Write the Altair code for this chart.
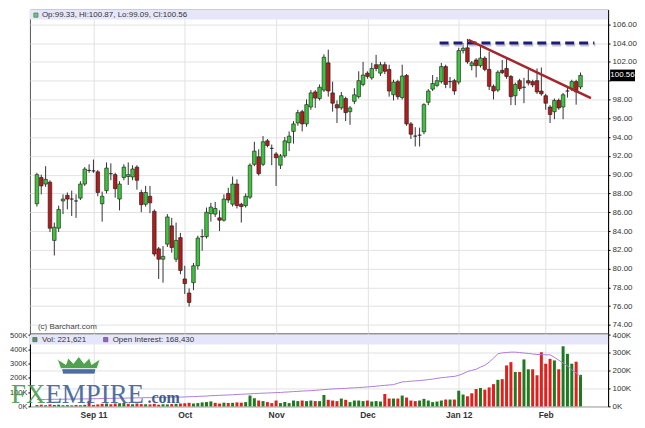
import altair as alt
import pandas as pd

# ---------------- data ----------------
OPEN = [86.9, 89.7, 89.0, 89.2, 83.0, 84.3, 87.2, 87.8, 87.4, 87.2,
        87.5, 89.0, 90.45, 90.4, 90.3, 86.9, 88.3, 90.1, 90.0, 87.4,
        89.7, 89.8, 89.75, 90.8, 88.1, 86.85, 87.7, 86.1, 82.1, 81.0,
        82.6, 84.55, 81.0, 83.3, 78.9, 77.4, 78.5, 80.3, 83.4, 83.4,
        85.85, 85.8, 85.4, 85.15, 88.0, 86.85, 89.0, 86.85, 86.7, 87.6,
        91.1, 91.9, 91.1, 93.6, 92.8, 92.2, 91.0, 92.0, 93.4, 94.6,
        95.5, 96.7, 95.4, 97.2, 98.8, 98.1, 99.0, 101.9, 98.7, 97.45,
        97.1, 98.1, 96.7, 97.8, 98.3, 99.6, 100.8, 100.3, 101.7, 100.8,
        101.7, 101.2, 98.5, 99.9, 98.2, 100.56, 95.4, 94.1, 94.2, 94.55,
        97.7, 99.1, 99.5, 99.9, 101.5, 99.9, 100.0, 99.85, 103.2, 103.5,
        101.6, 102.2, 101.6, 102.4, 101.2, 99.4, 99.0, 101.1, 101.3, 100.45,
        98.4, 100.0, 99.3, 100.0, 99.9, 100.0, 98.9, 98.4, 97.2, 96.7,
        97.9, 97.2, 98.9, 99.15, 99.9, 99.33]
HIGH = [90.2, 90.0, 90.9, 89.4, 84.9, 86.7, 87.9, 88.1, 88.3, 87.9,
        89.3, 90.8, 91.1, 91.6, 90.5, 88.2, 91.3, 91.2, 90.2, 89.3,
        91.1, 91.3, 91.0, 91.0, 88.4, 88.8, 88.8, 86.3, 82.3, 82.4,
        85.8, 85.4, 84.9, 83.8, 80.3, 77.9, 80.6, 83.5, 84.2, 86.5,
        87.0, 87.1, 86.2, 87.9, 88.6, 89.8, 89.5, 87.0, 88.0, 91.2,
        93.5, 92.7, 94.1, 93.8, 93.2, 92.4, 92.2, 94.0, 94.6, 95.7,
        96.9, 96.9, 98.0, 99.0, 99.0, 99.6, 102.8, 103.3, 99.9, 97.9,
        98.8, 98.3, 97.3, 99.2, 101.0, 102.0, 101.0, 101.9, 102.75, 102.0,
        102.0, 101.7, 100.1, 100.1, 101.7, 100.7, 95.6, 95.05, 95.0, 97.6,
        99.1, 100.6, 100.4, 101.9, 101.7, 100.4, 100.2, 103.5, 104.0, 104.45,
        102.1, 102.4, 103.6, 102.6, 103.1, 99.6, 101.1, 102.2, 102.3, 100.6,
        99.8, 100.2, 100.3, 101.2, 100.1, 101.3, 101.4, 98.6, 97.4, 98.1,
        98.1, 98.7, 99.3, 100.1, 100.1, 100.87]
LOW = [86.6, 87.9, 88.7, 83.9, 81.4, 83.9, 85.8, 86.3, 85.6, 85.4,
       87.3, 88.8, 90.2, 90.2, 87.7, 85.0, 88.0, 89.4, 87.55, 86.2,
       89.4, 88.9, 89.4, 88.4, 86.0, 86.6, 85.9, 81.3, 78.9, 78.5,
       82.3, 81.7, 80.7, 79.4, 77.3, 75.96, 77.7, 79.9, 81.9, 83.2,
       85.0, 85.5, 84.0, 85.0, 87.0, 86.6, 86.4, 84.9, 86.5, 87.4,
       90.9, 89.9, 90.9, 92.9, 91.0, 88.8, 90.6, 91.8, 92.5, 93.3,
       95.2, 94.6, 95.1, 96.9, 97.1, 97.9, 98.8, 98.3, 96.7, 95.5,
       96.9, 95.7, 95.3, 97.5, 98.1, 99.4, 100.2, 100.1, 101.0, 100.5,
       100.7, 98.3, 97.9, 98.0, 98.0, 95.2, 93.8, 93.0, 93.0, 94.3,
       97.4, 98.9, 99.3, 99.7, 99.2, 99.2, 98.5, 99.6, 102.9, 101.8,
       101.1, 100.35, 101.4, 101.0, 99.0, 98.0, 98.8, 100.7, 100.2, 97.4,
       97.4, 98.9, 97.6, 99.5, 99.3, 98.6, 98.4, 96.9, 95.5, 95.9,
       96.9, 95.9, 98.2, 98.9, 97.45, 99.09]
CLOSE = [90.0, 88.8, 89.5, 84.3, 84.4, 86.3, 87.4, 87.4, 87.4, 87.2,
         89.0, 90.6, 90.45, 90.4, 88.1, 87.7, 90.7, 90.1, 88.5, 89.0,
         90.8, 90.0, 90.6, 89.4, 86.8, 88.1, 87.0, 81.55, 81.0, 81.3,
         85.5, 82.25, 83.0, 79.8, 78.4, 76.4, 80.3, 83.25, 83.4, 86.0,
         86.55, 86.4, 85.15, 87.4, 87.3, 89.0, 86.7, 86.6, 87.7, 91.0,
         92.5, 90.1, 93.5, 93.1, 92.8, 91.8, 92.0, 93.6, 94.1, 95.4,
         96.6, 95.4, 97.45, 98.7, 98.15, 99.3, 102.5, 98.9, 97.6, 97.1,
         98.4, 96.6, 97.1, 98.5, 100.0, 100.6, 100.45, 101.3, 101.3, 101.7,
         101.0, 98.9, 99.85, 98.3, 100.5, 95.4, 94.3, 94.1, 94.2, 97.45,
         98.9, 99.7, 100.0, 101.5, 99.6, 99.9, 98.9, 103.2, 103.45, 102.0,
         101.9, 101.6, 102.4, 101.2, 99.4, 98.9, 100.9, 100.85, 100.45, 98.3,
         99.6, 99.15, 99.3, 99.75, 99.55, 98.8, 98.6, 97.6, 96.4, 97.9,
         97.1, 98.5, 98.9, 99.9, 98.8, 100.56]
VOLUME_K = [9, 12, 8, 14, 10, 12, 8, 9, 7, 10,
            8, 11, 40, 10, 14, 18, 20, 15, 20, 22,
            24, 18, 15, 20, 16, 15, 14, 18, 12, 15,
            14, 16, 18, 20, 22, 25, 20, 23, 28, 30,
            35, 25, 20, 26, 24, 25, 28, 26, 30, 76,
            57, 41, 37, 30, 23, 41, 23, 30, 23, 41,
            37, 41, 37, 41, 37, 37, 80, 46, 41, 37,
            55, 46, 30, 41, 41, 37, 41, 34, 37, 34,
            87, 55, 55, 55, 76, 62, 41, 37, 41, 53,
            41, 30, 34, 41, 48, 48, 48, 110, 83, 71,
            92, 122, 129, 117, 133, 156, 186, 191, 287, 310,
            241, 241, 329, 260, 260, 218, 379, 299, 333, 322,
            260, 421, 368, 299, 313, 221]
OPEN_INTEREST_K = [38, 38, 39, 39, 40, 40, 40, 41, 41, 41,
                   42, 42, 42, 43, 43, 44, 44, 45, 45, 46,
                   46, 47, 47, 48, 48, 49, 49, 50, 50, 50,
                   51, 51, 52, 52, 53, 54, 55, 56, 57, 58,
                   60, 61, 62, 63, 64, 65, 67, 68, 69, 70,
                   72, 73, 74, 75, 76, 77, 78, 80, 81, 83,
                   84, 86, 87, 88, 90, 92, 94, 96, 98, 99,
                   100, 101, 103, 104, 106, 107, 109, 111, 113, 116,
                   118, 120, 122, 130, 137, 139, 141, 143, 145, 147,
                   150, 153, 157, 161, 163, 166, 168, 174, 184, 195,
                   202, 208, 220, 230, 248, 270, 295, 300, 302, 304,
                   304, 302, 299, 297, 294, 291, 290, 289, 289, 275,
                   259, 243, 227, 205, 187, 168]
LAST_VOLUME = 221621
LAST_OI = 168430

MONTH_TICKS = [13, 34, 55, 76, 97, 117]
MONTH_LABELS = ["Sep 11", "Oct", "Nov", "Dec", "Jan 12", "Feb"]
PRICE_TICKS = list(range(74, 107, 2))
VOL_TICKS = [0, 100, 200, 300, 400, 500]
OI_TICKS = [0, 100, 200, 300, 400]

RESIST_I = [92.6, 128.2]
RESIST_P = [104.0, 104.0]
TREND_I = [99.2, 127.4]
TREND_P = [104.35, 98.15]

# ---------------- layout / style ----------------
W, H_MAIN, H_VOL = 580, 325, 73
FONT = "Liberation Sans"
X_DOMAIN = [-0.46, 130.2]
PRICE_DOMAIN = [73.08, 107.56]
VOL_DOMAIN = [0, 509.8]
OI_DOMAIN = [0, 407.8]
GREEN, RED = "#3cc43c", "#b41c1c"
VGREEN, VRED = "#1f7a1f", "#e0201c"
GRID = "#e2e2e2"

n = len(CLOSE)
prev = [CLOSE[0]] + CLOSE[:-1]
df = pd.DataFrame({
    "i": list(range(n)), "o": OPEN, "h": HIGH, "l": LOW, "c": CLOSE,
    "vol": VOLUME_K, "oi": OPEN_INTEREST_K,
    "bcol": [GREEN if c >= o else RED for o, c in zip(OPEN, CLOSE)],
    "vcol": [VGREEN if c >= p else VRED for c, p in zip(CLOSE, prev)],
})

xs = alt.Scale(domain=X_DOMAIN, nice=False, zero=False)
ps = alt.Scale(domain=PRICE_DOMAIN, nice=False, zero=False)

one = pd.DataFrame({"k": [0]})

# ---------------- main price pane ----------------
wicks = alt.Chart(df).mark_rule(color="#333333", strokeWidth=1).encode(
    x=alt.X("i:Q", scale=xs, axis=alt.Axis(values=MONTH_TICKS, tickCount=len(MONTH_TICKS), labels=False,
                                           ticks=False, domain=False, grid=True, gridColor=GRID, title=None)),
    y=alt.Y("l:Q", scale=ps, axis=alt.Axis(
        orient="right", values=PRICE_TICKS, tickCount=len(PRICE_TICKS), labelOverlap=False,
        labelExpr="datum.value == 100 ? '' : format(datum.value, '.2f')",
        grid=True, gridColor=GRID, tickSize=2, tickColor="#000", domainColor="#000",
        labelFontSize=8, labelColor="#333", labelPadding=2, title=None, labelFont=FONT)),
    y2="h:Q",
)
bodies = alt.Chart(df).mark_bar(size=3.6, stroke="#1a1a1a", strokeWidth=0.6).encode(
    x=alt.X("i:Q", scale=xs),
    y=alt.Y("o:Q", scale=ps),
    y2="c:Q",
    color=alt.Color("bcol:N", scale=None),
)
resist_df = pd.DataFrame({"i": RESIST_I, "p": RESIST_P})
resist_shadow = alt.Chart(resist_df).mark_line(strokeDash=[9, 5], strokeWidth=3, color="#c4c4d0", yOffset=2, xOffset=1).encode(
    x=alt.X("i:Q", scale=xs), y=alt.Y("p:Q", scale=ps))
resist = alt.Chart(resist_df).mark_line(strokeDash=[9, 5], strokeWidth=3, color="#1c1c7a").encode(
    x=alt.X("i:Q", scale=xs), y=alt.Y("p:Q", scale=ps))
trend_df = pd.DataFrame({"i": TREND_I, "p": TREND_P})
trend = alt.Chart(trend_df).mark_line(strokeWidth=2.6, color="#a3262a").encode(
    x=alt.X("i:Q", scale=xs), y=alt.Y("p:Q", scale=ps))

band_main = alt.Chart(one).mark_rect(color="#e6e6fa").encode(
    x=alt.value(0), x2=alt.value(W), y=alt.value(0), y2=alt.value(10))
hdr_sq = alt.Chart(one).mark_square(size=18, filled=True, color="#33bb33", stroke="#224422", strokeWidth=0.7).encode(
    x=alt.value(6), y=alt.value(5.5))
hdr_txt = alt.Chart(pd.DataFrame({"t": [f"Op:{OPEN[-1]:.2f}, Hi:{HIGH[-1]:.2f}, Lo:{LOW[-1]:.2f}, Cl:{CLOSE[-1]:.2f}"]})).mark_text(
    align="left", baseline="middle", fontSize=8, font=FONT, color="#333").encode(
    x=alt.value(12), y=alt.value(5.5), text="t:N")
credit = alt.Chart(pd.DataFrame({"t": ["(c) Barchart.com"]})).mark_text(
    align="left", baseline="middle", fontSize=8, font=FONT, color="#444").encode(
    x=alt.value(8), y=alt.value(318), text="t:N")

last_df = pd.DataFrame({"c": [CLOSE[-1]], "top": [CLOSE[-1] + 0.62], "bot": [CLOSE[-1] - 0.62],
                        "t": [f"{CLOSE[-1]:.2f}"]})
last_box = alt.Chart(last_df).mark_rect(color="#000").encode(
    x=alt.value(W + 2), x2=alt.value(W + 27), y=alt.Y("top:Q", scale=ps), y2="bot:Q")
last_txt = alt.Chart(last_df).mark_text(color="#fff", fontSize=8, font=FONT, align="center", baseline="middle").encode(
    x=alt.value(W + 14.5), y=alt.Y("c:Q", scale=ps), text="t:N")

main = alt.layer(wicks, band_main, bodies, resist_shadow, resist, trend, hdr_sq, hdr_txt, credit,
                 last_box, last_txt).properties(width=W, height=H_MAIN)

# ---------------- volume / open interest pane ----------------
month_expr = " : ".join(f"datum.value == {t} ? '{l}'" for t, l in zip(MONTH_TICKS, MONTH_LABELS)) + " : ''"

vol_bars = alt.Chart(df).mark_bar(size=3).encode(
    x=alt.X("i:Q", scale=xs, axis=alt.Axis(values=MONTH_TICKS, tickCount=len(MONTH_TICKS), labelExpr=month_expr,
                                           grid=True, gridColor=GRID, ticks=False, domain=False,
                                           labelFontWeight="bold", labelFontSize=8.5, labelColor="#333",
                                           labelPadding=4, title=None, labelFont=FONT)),
    y=alt.Y("vol:Q", scale=alt.Scale(domain=VOL_DOMAIN, nice=False), axis=alt.Axis(
        orient="left", values=VOL_TICKS, tickCount=len(VOL_TICKS), labelExpr="datum.value + 'K'", tickSize=2,
        labelOverlap=False, labelFontSize=7.5, labelPadding=1, grid=False, domainColor="#000", tickColor="#000",
        labelColor="#333", title=None, labelFont=FONT)),
    color=alt.Color("vcol:N", scale=None),
)
oi_line = alt.Chart(df).mark_line(color="#b07cd8", strokeWidth=1).encode(
    x=alt.X("i:Q", scale=xs),
    y=alt.Y("oi:Q", scale=alt.Scale(domain=OI_DOMAIN, nice=False), axis=alt.Axis(
        orient="right", values=OI_TICKS, tickCount=len(OI_TICKS), labelExpr="datum.value + 'K'", tickSize=2,
        labelOverlap=False, labelFontSize=8, labelPadding=2, grid=True, gridColor=GRID, domainColor="#000",
        tickColor="#000", labelColor="#333", title=None, labelFont=FONT)),
)
band_vol = alt.Chart(one).mark_rect(color="#e6e6fa").encode(
    x=alt.value(0), x2=alt.value(W), y=alt.value(1), y2=alt.value(11))
v_sq = alt.Chart(one).mark_square(size=18, filled=True, color="#1f6e1f", stroke="#113311", strokeWidth=0.7).encode(
    x=alt.value(5), y=alt.value(6))
v_txt = alt.Chart(pd.DataFrame({"t": [f"Vol: {LAST_VOLUME:,}"]})).mark_text(
    align="left", baseline="middle", fontSize=8, font=FONT, color="#333").encode(
    x=alt.value(12), y=alt.value(6), text="t:N")
oi_sq = alt.Chart(one).mark_square(size=18, filled=True, color="#7a2aa8", stroke="#331144", strokeWidth=0.7).encode(
    x=alt.value(76), y=alt.value(6))
oi_txt = alt.Chart(pd.DataFrame({"t": [f"Open Interest: {LAST_OI:,}"]})).mark_text(
    align="left", baseline="middle", fontSize=8, font=FONT, color="#333").encode(
    x=alt.value(83), y=alt.value(6), text="t:N")

# FXEMPIRE watermark
CROWN = ("M -0.85 0.15 L -1 -0.3 L -0.6 -0.05 L -0.5 -0.35 L -0.25 -0.1 L 0 -0.42 "
         "L 0.25 -0.1 L 0.5 -0.35 L 0.6 -0.05 L 1 -0.3 L 0.85 0.15 Z")
BAND = "M -0.8 0.15 L 0.8 0.15 L 0.75 0.4 L -0.75 0.4 Z"
crown = alt.Chart(one).mark_point(shape=CROWN, size=1849, filled=True, color="#3d9a3d", opacity=0.9,
                                  stroke="#ffffff", strokeWidth=0.8).encode(x=alt.value(49), y=alt.value(32))
crown_band = alt.Chart(one).mark_point(shape=BAND, size=1849, filled=True, color="#3b5e9a", opacity=0.9,
                                       stroke="#ffffff", strokeWidth=0.8).encode(x=alt.value(49), y=alt.value(32))
logo_fx = alt.Chart(pd.DataFrame({"t": ["FX"]})).mark_text(
    align="left", baseline="alphabetic", fontSize=27, font="Liberation Serif", color="#4a9a4e", opacity=0.9).encode(
    x=alt.value(-19), y=alt.value(70), text="t:N")
logo_emp = alt.Chart(pd.DataFrame({"t": ["EMPIRE"]})).mark_text(
    align="left", baseline="alphabetic", fontSize=27, font="Liberation Serif", color="#3d6296", opacity=0.9).encode(
    x=alt.value(15.5), y=alt.value(70), text="t:N")
logo_com = alt.Chart(pd.DataFrame({"t": [".com"]})).mark_text(
    align="left", baseline="alphabetic", fontSize=16, fontWeight="bold", font="Liberation Serif",
    color="#2b4d86", opacity=0.9).encode(x=alt.value(118), y=alt.value(70), text="t:N")

vol = alt.layer(band_vol, vol_bars, oi_line, v_sq, v_txt, oi_sq, oi_txt,
                crown, crown_band, logo_fx, logo_emp, logo_com).resolve_scale(y="independent").properties(
    width=W, height=H_VOL)

chart = alt.vconcat(main, vol, spacing=0, bounds="flush").properties(padding=0).configure(
    padding=0, view=alt.ViewConfig(stroke="#555555", strokeWidth=1))

chart.save("out.html", embed_options={"renderer": "svg", "actions": False})
